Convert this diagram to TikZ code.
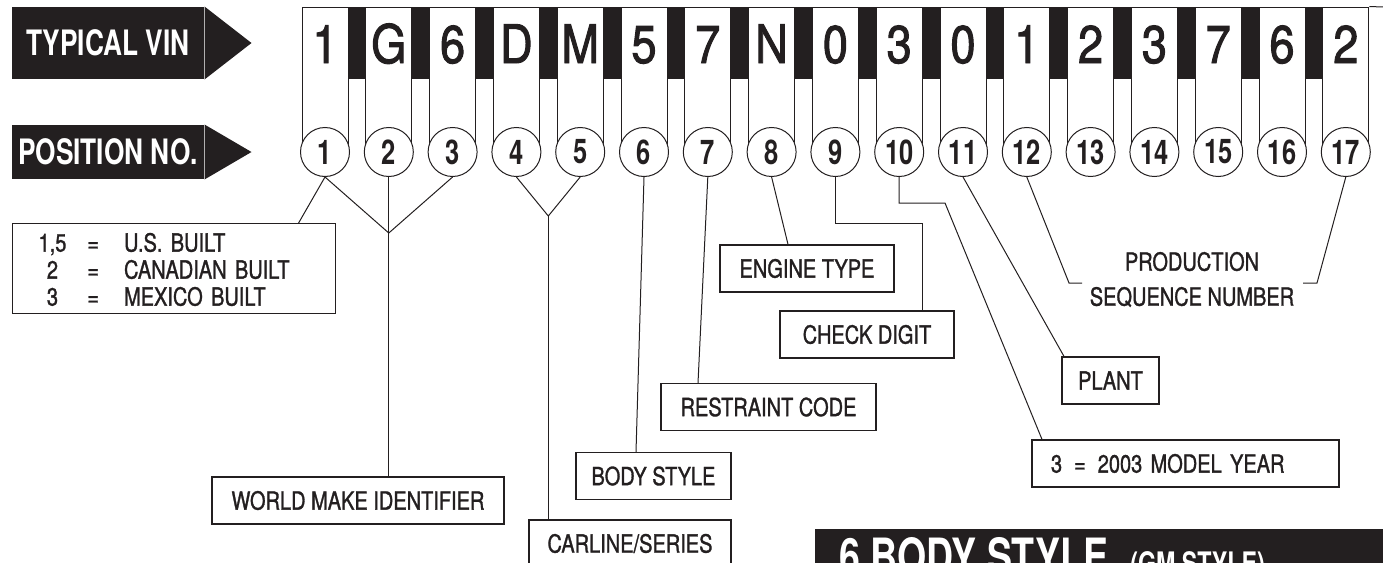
\documentclass[tikz,border=0pt]{standalone}
\usepackage{fontspec}
\setmainfont{TeX Gyre Heros}
\newfontfamily\labelfont{TeX Gyre Heros}[FakeStretch=0.8, FakeBold=1.2]
\newfontfamily\vinfont{TeX Gyre Heros}[FakeStretch=0.85, FakeBold=1.8]
\newfontfamily\tagfont{TeX Gyre Heros}[FakeStretch=0.75]
\usetikzlibrary{positioning}
\definecolor{ink}{HTML}{231F20}

\begin{document}
\begin{tikzpicture}
[x=1pt, y=-1pt, node distance=63.8pt, color=ink, line width=1pt, font=\labelfont]
\tikzstyle{vinkey}=[rectangle, draw, fill=white, inner sep=0pt, minimum width=46pt, text height=56pt, text depth=82pt, font=\vinfont\fontsize{53}{53}\selectfont]
\tikzstyle{posno}=[circle, draw, fill=white, inner sep=0pt, minimum size=49pt, font=\tagfont\bfseries\fontsize{34}{34}\selectfont]
\tikzstyle{tag}=[rectangle, fill, inner sep=0pt, minimum width=192pt, text=white, font=\tagfont\bfseries\fontsize{35}{35}\selectfont]
\tikzstyle{labelbox}=[rectangle, draw, fill=white, inner sep=0pt, minimum height=47pt, line width=1.2pt, font=\labelfont\fontsize{25}{30}\selectfont]
\useasboundingbox (0,0) rectangle (1383,562);
\clip (0,0) rectangle (1383,562);

% header arrows
\node[tag, minimum height=72pt] (vin) at (108,43) {TYPICAL VIN};
\fill (vin.north east) -- ([xshift=47pt]vin.east) -- (vin.south east) -- cycle;
\node[tag, minimum height=54pt] (pos) at (108,152) {POSITION NO.};
\fill (pos.north east) -- ([xshift=47pt]pos.east) -- (pos.south east) -- cycle;

% vin characters
\node[vinkey] (V1) at (325,76) {1};
\node[vinkey] (V2)  [right of=V1]  {G};
\node[vinkey] (V3)  [right of=V2]  {6};
\node[vinkey] (V4)  [right of=V3]  {D};
\node[vinkey] (V5)  [right of=V4]  {M};
\node[vinkey] (V6)  [right of=V5]  {5};
\node[vinkey] (V7)  [right of=V6]  {7};
\node[vinkey] (V8)  [right of=V7]  {N};
\node[vinkey] (V9)  [right of=V8]  {0};
\node[vinkey] (V10) [right of=V9]  {3};
\node[vinkey] (V11) [right of=V10] {0};
\node[vinkey] (V12) [right of=V11] {1};
\node[vinkey] (V13) [right of=V12] {2};
\node[vinkey] (V14) [right of=V13] {3};
\node[vinkey] (V15) [right of=V14] {7};
\node[vinkey] (V16) [right of=V15] {6};
\node[vinkey] (V17) [right of=V16] {2};

\coordinate (barfoot) at (0,79);
\coordinate (rim) at (1383,7);
\fill (V1.north east)  rectangle (V2.west |- barfoot);
\fill (V2.north east)  rectangle (V3.west |- barfoot);
\fill (V3.north east)  rectangle (V4.west |- barfoot);
\fill (V4.north east)  rectangle (V5.west |- barfoot);
\fill (V5.north east)  rectangle (V6.west |- barfoot);
\fill (V6.north east)  rectangle (V7.west |- barfoot);
\fill (V7.north east)  rectangle (V8.west |- barfoot);
\fill (V8.north east)  rectangle (V9.west |- barfoot);
\fill (V9.north east)  rectangle (V10.west |- barfoot);
\fill (V10.north east) rectangle (V11.west |- barfoot);
\fill (V11.north east) rectangle (V12.west |- barfoot);
\fill (V12.north east) rectangle (V13.west |- barfoot);
\fill (V13.north east) rectangle (V14.west |- barfoot);
\fill (V14.north east) rectangle (V15.west |- barfoot);
\fill (V15.north east) rectangle (V16.west |- barfoot);
\fill (V16.north east) rectangle (V17.west |- barfoot);
\draw (V17.north east) -- (rim);

% position numbers
\node[posno] (P1) at (325,152) {1};
\node[posno] (P2)  [right of=P1]  {2};
\node[posno] (P3)  [right of=P2]  {3};
\node[posno] (P4)  [right of=P3]  {4};
\node[posno] (P5)  [right of=P4]  {5};
\node[posno] (P6)  [right of=P5]  {6};
\node[posno] (P7)  [right of=P6]  {7};
\node[posno] (P8)  [right of=P7]  {8};
\node[posno] (P9)  [right of=P8]  {9};
\node[posno] (P10) [right of=P9]  {10};
\node[posno] (P11) [right of=P10] {11};
\node[posno] (P12) [right of=P11] {12};
\node[posno] (P13) [right of=P12] {13};
\node[posno] (P14) [right of=P13] {14};
\node[posno] (P15) [right of=P14] {15};
\node[posno] (P16) [right of=P15] {16};
\node[posno] (P17) [right of=P16] {17};

% explanation boxes
\node[labelbox, anchor=north west, text width=271pt, inner xsep=26pt, inner ysep=0pt, align=left] (built) at (12,223)
  {\fontsize{25}{27}\selectfont\begin{tabular}{@{}c@{\hspace{21pt}}c@{\hspace{25pt}}l@{}}
   \rule{0pt}{28pt}1,5 & = & U.S. BUILT\\ 2 & = & CANADIAN BUILT\\ 3 & = & MEXICO BUILT\end{tabular}};
\node[labelbox, minimum width=174pt] (engine)    at (807,268.5)   {ENGINE TYPE};
\node[labelbox, minimum width=174pt] (check)     at (867,334.5)   {CHECK DIGIT};
\node[labelbox, minimum width=97pt]  (plant)     at (1110.5,380.5) {PLANT};
\node[labelbox, minimum width=215pt] (restraint) at (768.5,407)   {RESTRAINT CODE};
\node[labelbox, text width=269pt, inner xsep=19pt, align=left] (year) at (1185.5,463.5)
  {3\hspace{12pt}=\hspace{12pt}2003 MODEL YEAR};
\node[labelbox, minimum width=155pt] (body)      at (653.5,476)   {BODY STYLE};
\node[labelbox, minimum width=292pt] (wmi)       at (358,500.5)   {WORLD MAKE IDENTIFIER};
\node[labelbox, minimum width=202pt] (carline)   at (630,543.5)   {CARLINE/SERIES};
\node[font=\labelfont\fontsize{25}{35}\selectfont, align=center] (seq) at (1192,279.5) {PRODUCTION\\SEQUENCE NUMBER};

% leader lines
\coordinate (j123) at (388.8,233);
\coordinate (j45)  at (548.3,216);
\coordinate (k9)   at (922,223);
\coordinate (k10)  at (945,203);
\coordinate (b12)  at (1069,283);
\coordinate (b17)  at (1317,283);
\draw (P1.south) -- ([xshift=124.5pt]built.north);
\draw (P1.south) -- (j123) -- (P3.south);
\draw (P2.south) -- (P2.south |- wmi.north);
\draw (P4.south) -- (j45) -- (P5.south);
\draw (j45) -- (j45 |- carline.north);
\draw (P6.south) -- ([xshift=-17.5pt]body.north);
\draw (P7.south) -- ([xshift=-70.5pt]restraint.north);
\draw (P8.south) -- ([xshift=-19pt]engine.north);
\draw (P9.south) |- (k9) -- (k9 |- check.north);
\draw (P10.south) |- (k10) -- ([xshift=-143.5pt]year.north);
\draw (P11.south) -- ([xshift=-46.5pt]plant.north);
\draw (P12.south) -- (b12) -- ++(13,0);
\draw (P17.south) -- (b17) -- ++(-14,0);

% section banner
\node[fill, anchor=north west, inner sep=0pt, minimum width=569pt, minimum height=50pt] (banner) at (814,528) {};
\node[anchor=base west, inner sep=0pt, text=white, font=\tagfont\bfseries\fontsize{50}{50}\selectfont] (bstitle) at (839,574)
  {6 BODY STYLE\hspace{22pt}{\fontsize{31}{31}\selectfont(GM STYLE)}};
\end{tikzpicture}
\end{document}
